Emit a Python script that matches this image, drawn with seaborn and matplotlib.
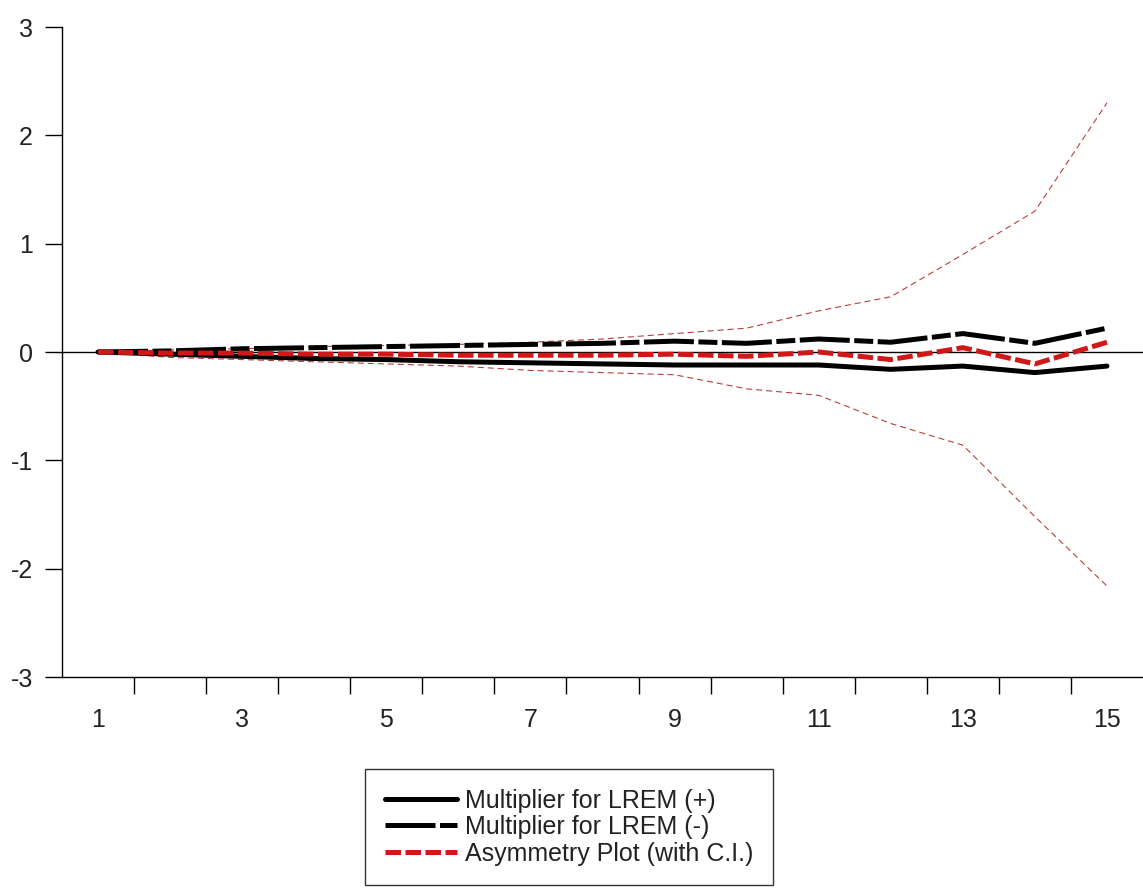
import numpy as np
import pandas as pd
import seaborn as sns
import matplotlib
matplotlib.use("Agg")
import matplotlib.pyplot as plt

# Dynamic multipliers by period
periods = list(range(1, 16))
mult_pos = [0.00, -0.02, -0.04, -0.06, -0.07, -0.09, -0.10, -0.11, -0.12, -0.12, -0.12, -0.16, -0.13, -0.19, -0.13]
mult_neg = [0.00, 0.01, 0.03, 0.04, 0.05, 0.06, 0.07, 0.08, 0.10, 0.08, 0.12, 0.09, 0.17, 0.08, 0.22]
asymmetry = [0.00, -0.01, -0.01, -0.02, -0.02, -0.03, -0.03, -0.03, -0.02, -0.04, 0.00, -0.07, 0.04, -0.11, 0.09]
ci_upper = [0.00, 0.02, 0.03, 0.05, 0.06, 0.07, 0.09, 0.12, 0.17, 0.22, 0.38, 0.51, 0.90, 1.30, 2.30]
ci_lower = [0.00, -0.05, -0.07, -0.09, -0.11, -0.13, -0.17, -0.19, -0.21, -0.34, -0.40, -0.66, -0.86, -1.52, -2.16]

label_pos = "Multiplier for LREM (+)"
label_neg = "Multiplier for LREM (-)"
label_asym = "Asymmetry Plot (with C.I.)"

x_labels = [1, 3, 5, 7, 9, 11, 13, 15]
y_ticks = [-3, -2, -1, 0, 1, 2, 3]

sns.set_theme(style="white")
plt.rcParams["font.family"] = ["Liberation Sans", "DejaVu Sans"]

df = pd.DataFrame({
    "period": periods,
    "pos": mult_pos,
    "neg": mult_neg,
    "asym": asymmetry,
    "upper": ci_upper,
    "lower": ci_lower,
})

fig = plt.figure(figsize=(11.43, 8.88), dpi=100)
ax = fig.add_axes([62 / 1143, 1 - 677 / 888, 1081 / 1143, 650 / 888])

ax.axhline(0, color="black", lw=1.0, zorder=1)

ci_color = "#b8403a"
red = "#d01818"

sns.lineplot(data=df, x="period", y="upper", ax=ax, color=ci_color, lw=0.8,
             linestyle=(0, (5.5, 3.5)), zorder=2)
sns.lineplot(data=df, x="period", y="lower", ax=ax, color=ci_color, lw=0.8,
             linestyle=(0, (5.5, 3.5)), zorder=2)
sns.lineplot(data=df, x="period", y="pos", ax=ax, color="black", lw=3.6,
             linestyle="-", zorder=3, label=label_pos)
sns.lineplot(data=df, x="period", y="neg", ax=ax, color="black", lw=3.6,
             linestyle=(0, (10.0, 0.9, 3.8, 0.9)), zorder=3, label=label_neg)
sns.lineplot(data=df, x="period", y="asym", ax=ax, color=red, lw=3.6,
             linestyle=(0, (3.1, 0.9)), zorder=4, label=label_asym)

ax.set_xlim(0.5, 15.5)
ax.set_ylim(-3, 3)
ax.set_xlabel("")
ax.set_ylabel("")

for side in ("top", "right"):
    ax.spines[side].set_visible(False)
for side in ("left", "bottom"):
    ax.spines[side].set_color("black")
    ax.spines[side].set_linewidth(1.0)

ax.set_yticks(y_ticks)
ax.set_yticklabels([str(v) for v in y_ticks])
ax.tick_params(axis="y", direction="out", length=12, width=1, color="black",
               pad=9, labelsize=18, labelcolor="#222222", left=True)

# x ticks sit on period boundaries; labels at odd periods
ax.set_xticks(np.arange(1.5, 15.0, 1.0))
ax.set_xticklabels([])
ax.set_xticks(x_labels, minor=True)
ax.set_xticklabels([str(v) for v in x_labels], minor=True)
ax.tick_params(axis="x", which="major", direction="out", length=12, width=1,
               color="black", bottom=True)
ax.tick_params(axis="x", which="minor", length=0, pad=22, labelsize=18,
               labelcolor="#222222", bottom=True)

handles, labels = ax.get_legend_handles_labels()
ax.get_legend().remove()
leg = fig.legend(handles, labels, loc="upper center",
                 bbox_to_anchor=(569 / 1143, 1 - 769 / 888),
                 frameon=True, fancybox=False, shadow=False,
                 fontsize=18, handlelength=2.9, handletextpad=0.32,
                 labelspacing=0.1, borderpad=0.78, borderaxespad=0)
leg.get_frame().set_edgecolor("black")
leg.get_frame().set_linewidth(1.0)
for t in leg.get_texts():
    t.set_color("#222222")

fig.savefig("out.png", dpi=100)
